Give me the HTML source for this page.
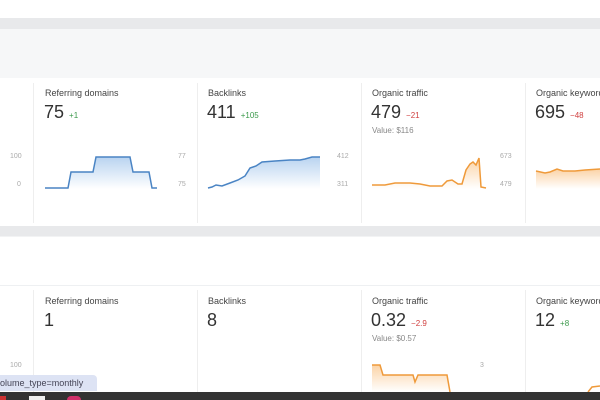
<!DOCTYPE html>
<html><head><style>
body{margin:0;width:600px;height:400px;overflow:hidden;background:#fff;font-family:"Liberation Sans",sans-serif;position:relative}
div,span{position:absolute}
.t{font-size:9px;color:#444}
.n{font-size:18px;color:#333}
.g{font-size:8px;color:#3c9a4c}
.r{font-size:8px;color:#d04040}
.ax{font-size:7px;color:#aaa}
.v{font-size:8px;color:#888}
.dv{width:1px;background:#eee}
</style></head><body>
<div style="left:0;top:18px;width:600px;height:11px;background:#e8e9eb"></div>
<div style="left:0;top:29px;width:600px;height:49px;background:#f6f7f8"></div>
<div style="left:0;top:226px;width:600px;height:10px;background:#e8e9eb"></div>
<div style="left:0;top:236px;width:600px;height:1px;background:#f2f3f4"></div>
<div style="left:0;top:285px;width:600px;height:1px;background:#eef0f2"></div>

<div class="dv" style="left:33px;top:83px;height:140px"></div>
<div class="dv" style="left:197px;top:83px;height:140px"></div>
<div class="dv" style="left:361px;top:83px;height:140px"></div>
<div class="dv" style="left:525px;top:83px;height:140px"></div>
<div class="dv" style="left:33px;top:290px;height:102px"></div>
<div class="dv" style="left:197px;top:290px;height:102px"></div>
<div class="dv" style="left:361px;top:290px;height:102px"></div>
<div class="dv" style="left:525px;top:290px;height:102px"></div>

<div class="t" style="left:45px;top:88px">Referring domains</div>
<div class="n" style="left:44px;top:102px">75 <span class="g" style="position:static">+1</span></div>
<div class="t" style="left:208px;top:88px">Backlinks</div>
<div class="n" style="left:207px;top:102px">411 <span class="g" style="position:static">+105</span></div>
<div class="t" style="left:372px;top:88px">Organic traffic</div>
<div class="n" style="left:371px;top:102px">479 <span class="r" style="position:static">−21</span></div>
<div class="v" style="left:372px;top:126px">Value: $116</div>
<div class="t" style="left:536px;top:88px;white-space:nowrap">Organic keywords</div>
<div class="n" style="left:535px;top:102px">695 <span class="r" style="position:static">−48</span></div>

<div class="ax" style="left:10px;top:153px">100</div>
<div class="ax" style="left:17px;top:181px">0</div>
<div class="ax" style="left:178px;top:153px">77</div>
<div class="ax" style="left:178px;top:181px">75</div>
<div class="ax" style="left:337px;top:153px">412</div>
<div class="ax" style="left:337px;top:181px">311</div>
<div class="ax" style="left:500px;top:153px">673</div>
<div class="ax" style="left:500px;top:181px">479</div>

<div class="t" style="left:45px;top:296px">Referring domains</div>
<div class="n" style="left:44px;top:310px">1</div>
<div class="t" style="left:208px;top:296px">Backlinks</div>
<div class="n" style="left:207px;top:310px">8</div>
<div class="t" style="left:372px;top:296px">Organic traffic</div>
<div class="n" style="left:371px;top:310px">0.32 <span class="r" style="position:static">−2.9</span></div>
<div class="v" style="left:372px;top:334px">Value: $0.57</div>
<div class="t" style="left:536px;top:296px;white-space:nowrap">Organic keywords</div>
<div class="n" style="left:535px;top:310px">12 <span class="g" style="position:static">+8</span></div>
<div class="ax" style="left:10px;top:362px">100</div>
<div class="ax" style="left:480px;top:362px">3</div>

<svg style="position:absolute;left:0;top:0" width="600" height="400">
<defs>
<linearGradient id="b" x1="0" y1="0" x2="0" y2="1"><stop offset="0" stop-color="#b9d3f0"/><stop offset="1" stop-color="#fff"/></linearGradient>
<linearGradient id="o" x1="0" y1="0" x2="0" y2="1"><stop offset="0" stop-color="#fbd3a6"/><stop offset="1" stop-color="#fff"/></linearGradient>
</defs>
<polygon fill="url(#b)" points="45,188 68,188 71,172 93,172 96,157 130,157 133,172 149,172 152,188 157,188 157,189 45,189"/>
<polyline fill="none" stroke="#4a84c4" stroke-width="1.5" points="45,188 68,188 71,172 93,172 96,157 130,157 133,172 149,172 152,188 157,188"/>
<polygon fill="url(#b)" points="208,188 212,187 216,185 222,186 230,183 238,180 245,176 250,168 256,166 262,162 275,161 290,160 300,160 305,159 312,157 320,157 320,189 208,189"/>
<polyline fill="none" stroke="#4a84c4" stroke-width="1.5" points="208,188 212,187 216,185 222,186 230,183 238,180 245,176 250,168 256,166 262,162 275,161 290,160 300,160 305,159 312,157 320,157"/>
<polygon fill="url(#o)" points="372,185 385,185 395,183 410,183 420,184 430,186 442,186 447,181 452,180 458,184 462,184 466,170 470,164 473,162 476,165 479,158 481,187 486,188 486,189 372,189"/>
<polyline fill="none" stroke="#ef9a3a" stroke-width="1.5" points="372,185 385,185 395,183 410,183 420,184 430,186 442,186 447,181 452,180 458,184 462,184 466,170 470,164 473,162 476,165 479,158 481,187 486,188"/>
<polygon fill="url(#o)" points="536,171 545,173 550,172 557,169 563,171 575,171 585,170 600,169 600,189 536,189"/>
<polyline fill="none" stroke="#ef9a3a" stroke-width="1.5" points="536,171 545,173 550,172 557,169 563,171 575,171 585,170 600,169"/>
<polygon fill="url(#o)" points="372,365 380,365 383,375 413,375 415,382 418,375 447,375 450,392 372,392"/>
<polyline fill="none" stroke="#ef9a3a" stroke-width="1.5" points="372,365 380,365 383,375 413,375 415,382 418,375 447,375 450,392"/>
<polyline fill="none" stroke="#ef9a3a" stroke-width="1.5" points="588,392 592,387 600,386"/>
</svg>

<div style="left:0;top:375px;width:97px;height:16px;background:#dde3f4;border-radius:0 4px 0 0;font-size:9px;color:#445;line-height:16px">olume_type=monthly</div>
<div style="left:0;top:392px;width:600px;height:8px;background:#333"></div>
<div style="left:0;top:396px;width:6px;height:4px;background:#c33"></div>
<div style="left:29px;top:396px;width:16px;height:4px;background:#eee"></div>
<div style="left:67px;top:396px;width:14px;height:4px;background:#d0306a;border-radius:4px 4px 0 0"></div>
</body></html>
